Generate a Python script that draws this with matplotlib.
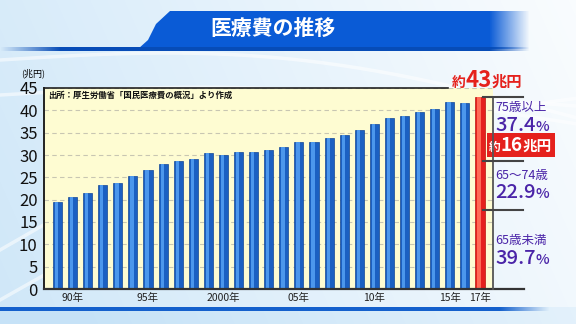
import numpy as np
import matplotlib
matplotlib.use("Agg")
import matplotlib.pyplot as plt
from matplotlib.patches import Polygon
from matplotlib.offsetbox import TextArea, HPacker, AnnotationBbox

plt.rcParams['font.family'] = ['Noto Sans CJK JP', 'DejaVu Sans']

# 国民医療費（兆円）1989〜2017年度
years = list(range(1989, 2018))
costs = [19.4, 20.5, 21.5, 23.2, 23.8, 25.4, 26.7, 27.9, 28.7, 29.2,
         30.4, 29.9, 30.7, 30.7, 31.2, 31.7, 32.8, 32.8, 33.7, 34.5,
         35.6, 37.0, 38.2, 38.8, 39.6, 40.3, 41.8, 41.6, 43]
tick_years = [1990, 1995, 2000, 2005, 2010, 2015, 2017]
tick_labels = ['90年', '95年', '2000年', '05年', '10年', '15年', '17年']

# 2017年度の年齢階級別内訳（下から）
age_groups = ['65歳未満', '65～74歳', '75歳以上']
age_shares = [39.7, 22.9, 37.4]
divider_levels = [17.7, 28.7]
elderly_cost = 16

PURPLE = '#4a24a8'
RED = '#e5211d'

fig = plt.figure(figsize=(5.76, 3.24), dpi=100)

# background
bg = fig.add_axes([0, 0, 1, 1], zorder=-10)
bg.axis('off')
H, W = 324, 576
gx = np.linspace(0, 1, W)[None, :]
gy = np.linspace(0, 1, H)[:, None]
white = np.clip(0.15 + 0.6 * gx + 0.15 * (1 - gy) - 0.25 * (gy > 0.95), 0, 1)
blue = np.array([0.78, 0.89, 0.97])
img = blue[None, None, :] * (1 - white[..., None]) + white[..., None]
bg.imshow(img, extent=[0, 576, 324, 0], aspect='auto')
sx = np.linspace(0, 576, 200)
for a, b, c in [(60, 0.10, 30), (95, 0.05, 20), (250, -0.25, 60), (300, -0.35, 40)]:
    bg.plot(sx, a + b * sx - c * np.sin(sx / 576 * np.pi), color='white', lw=2.5, alpha=0.55)

# title banner
banner = Polygon([(138, 49), (148, 40), (156, 24), (170, 11), (535, 11), (535, 49)],
                 closed=True, fc='none', ec='none')
bg.add_patch(banner)
fade = np.clip((530 - np.linspace(0, 576, W)) / 40, 0, 1)
band = np.zeros((2, W, 4))
band[..., :3] = [0.04, 0.36, 0.84]
band[..., 3] = fade
im = bg.imshow(band, extent=[0, 576, 49, 11], aspect='auto')
im.set_clip_path(banner)
line = np.zeros((2, W, 4))
line[..., :3] = [0.03, 0.30, 0.72]
line[..., 3] = np.clip(np.linspace(0, 576, W) / 60, 0, 1) * fade
bg.imshow(line, extent=[0, 576, 51, 47], aspect='auto')
bg.text(273, 28, '医療費の推移', color='white', fontsize=15, fontweight='bold',
        ha='center', va='center')

bottom = np.zeros((2, W, 4))
bottom[..., :3] = [0.08, 0.38, 0.80]
bottom[..., 3] = np.clip((550 - np.linspace(0, 576, W)) / 50, 0, 1)
bg.imshow(bottom, extent=[0, 576, 311, 307], aspect='auto')
bg.set_xlim(0, 576)
bg.set_ylim(324, 0)

# main chart
ax = fig.add_axes([44 / 576, 35 / 324, 449 / 576, 201 / 324])
ax.set_facecolor('#fefcd2')
ax.set_xlim(1988.11, 2017.86)
ax.set_ylim(0, 45)

yrs = np.array(years)
ax.bar(yrs[:-1], costs[:-1], width=0.6, color='#1b60c2', edgecolor='#124796', linewidth=0.5, zorder=3)
ax.bar(yrs[:-1] - 0.06, costs[:-1], width=0.22, color='#4c97ec', zorder=3)
ax.bar(yrs[-1], costs[-1], width=0.6, color=RED, edgecolor='#b81410', linewidth=0.5, zorder=3)
ax.bar(yrs[-1] - 0.06, costs[-1], width=0.22, color='#ff6a55', zorder=3)

ax.set_yticks(range(0, 46, 5))
ax.yaxis.grid(True, ls=(0, (4, 3)), color='#c8c6b2', lw=0.8)
ax.set_axisbelow(True)
ax.tick_params(axis='y', length=0, pad=4.5, labelsize=12, labelcolor='#111111')
ax.set_xticks(tick_years)
ax.set_xticklabels(tick_labels, fontsize=7.5, color='#222222')
ax.tick_params(axis='x', length=0, pad=3)
for s in ['top', 'right', 'bottom']:
    ax.spines[s].set_visible(False)
ax.spines['left'].set_linewidth(1.4)
ax.spines['left'].set_color('#222222')

# frame lines and breakdown scale
ax.plot([1988.11, 2019.9], [0, 0], color='#333333', lw=1.6, clip_on=False, zorder=4)
ax.plot([1988.11, 2014.9], [45, 45], color='#222222', lw=1.2, clip_on=False, zorder=4)
ax.plot([2017.86, 2017.86], [0, costs[-1]], color='#555555', lw=1.3, clip_on=False, zorder=4)
for lv in divider_levels + [costs[-1]]:
    ax.plot([2017.2, 2019.85], [lv, lv], color='#444444', lw=1.5, clip_on=False, zorder=4)

ax.text(-0.025, 1.075, '(兆円)', transform=ax.transAxes, fontsize=6.5, ha='center', va='center')
ax.text(1988.4, 43.3, '出所：厚生労働省「国民医療費の概況」より作成', fontsize=6.0,
        fontweight='bold', color='#111111', va='center')


def mixed(parts, color, weight='bold'):
    boxes = [TextArea(t, textprops=dict(fontsize=fs, color=color, fontweight=weight))
             for t, fs in parts]
    return HPacker(children=boxes, align='baseline', pad=0, sep=0)


total = costs[-1]
ab = AnnotationBbox(mixed([('約', 10), (f'{total:g}', 16), ('兆円', 11)], RED),
                    (2015.1, 46.7), frameon=False, box_alignment=(0, 0.5),
                    annotation_clip=False)
ax.add_artist(ab)

ab = AnnotationBbox(mixed([('約', 8.5), (f'{elderly_cost}', 13.5), ('兆円', 10.5)], 'white'),
                    (2017.6, 32.2), frameon=True, box_alignment=(0, 0.5),
                    annotation_clip=False, pad=0.12,
                    bboxprops=dict(fc=RED, ec='none', boxstyle='square,pad=0.18'))
ax.add_artist(ab)

name_y = [10.9, 25.5, 40.7]
pct_y = [6.9, 21.5, 36.7]
for name, share, ny, py in zip(age_groups, age_shares, name_y, pct_y):
    ax.text(2018.0, ny, name, fontsize=9, color=PURPLE, va='center', ha='left', clip_on=False)
    ab = AnnotationBbox(mixed([(f'{share:.1f}', 14.5), ('%', 10.5)], PURPLE, 'medium'),
                        (2018.0, py), frameon=False, box_alignment=(0, 0.5),
                        annotation_clip=False, pad=0)
    ax.add_artist(ab)

fig.savefig('out.png', dpi=100)
